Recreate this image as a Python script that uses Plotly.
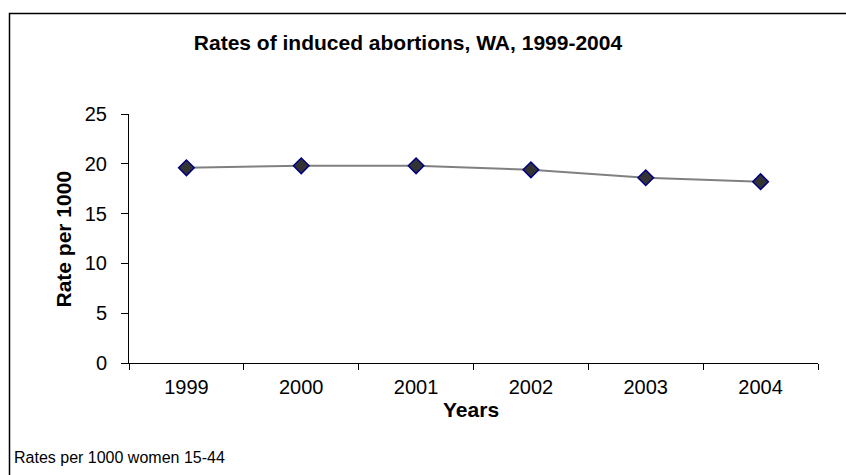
import plotly.graph_objects as go

years = ["1999", "2000", "2001", "2002", "2003", "2004"]
rates = [19.6, 19.8, 19.8, 19.4, 18.6, 18.2]
y_ticks = [0, 5, 10, 15, 20, 25]

W, H = 846, 475
L, R, T, B = 129, 28, 114, 112
pw, ph = W - L - R, H - T - B

def px(xp):
    return (xp - L) / pw

def py(yp):
    return (H - B - yp) / ph

font = "Arial, Liberation Sans, sans-serif"

fig = go.Figure()
fig.add_trace(go.Scatter(
    x=years, y=rates, mode="lines+markers",
    line=dict(color="#808080", width=2),
    marker=dict(symbol="diamond", size=12, color="#333333",
                line=dict(color="#000080", width=1.5)),
    showlegend=False, hoverinfo="x+y",
))

fig.update_layout(
    width=W, height=H,
    margin=dict(l=L, r=R, t=T, b=B),
    paper_bgcolor="white", plot_bgcolor="white",
    font=dict(family=font, color="black"),
    title=dict(text="<b>Rates of induced abortions, WA, 1999-2004</b>",
               x=408 / W, xanchor="center", xref="container",
               y=1 - 43 / H, yanchor="middle", yref="container",
               font=dict(size=21, family=font, color="black")),
    xaxis=dict(type="category", range=[-0.5, 5.5], tickson="boundaries",
               ticks="outside", ticklen=6, tickcolor="black",
               showline=True, linecolor="black", linewidth=1,
               showgrid=False, zeroline=False, ticklabelstandoff=6,
               tickfont=dict(size=20, family=font, color="black")),
    yaxis=dict(range=[0, 25], tickvals=y_ticks,
               ticks="outside", ticklen=7, tickcolor="black",
               showline=True, linecolor="black", linewidth=1,
               showgrid=False, zeroline=False, ticklabelstandoff=10,
               tickfont=dict(size=20, family=font, color="black")),
    shapes=[dict(type="rect", xref="paper", yref="paper",
                 x0=px(9.5), x1=1.2, y0=-0.6, y1=py(13.5),
                 line=dict(color="black", width=1.5), fillcolor="rgba(0,0,0,0)",
                 layer="below")],
    annotations=[
        dict(text="<b>Years</b>", xref="paper", yref="paper",
             x=px(471), y=py(409), xanchor="center", yanchor="middle",
             showarrow=False, font=dict(size=21, family=font, color="black")),
        dict(text="<b>Rate per 1000</b>", xref="paper", yref="paper",
             x=px(62.5), y=py(239), xanchor="center", yanchor="middle",
             textangle=-90, showarrow=False,
             font=dict(size=21, family=font, color="black")),
        dict(text="Rates per 1000 women 15-44", xref="paper", yref="paper",
             x=px(12), y=py(457), xanchor="left", yanchor="middle",
             showarrow=False, font=dict(size=16, family=font, color="black")),
    ],
)

fig.write_html("out.html")
